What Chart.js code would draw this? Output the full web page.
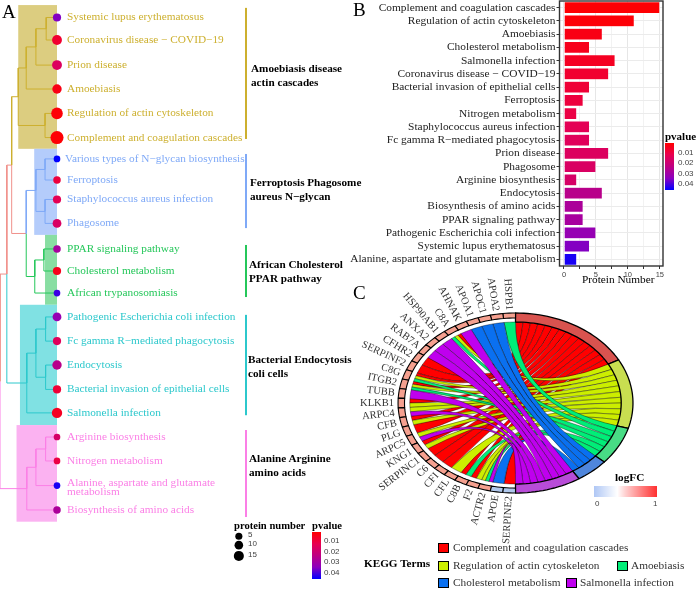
<!DOCTYPE html>
<html>
<head>
<meta charset="utf-8">
<script src="https://cdn.jsdelivr.net/npm/chart.js@4"></script>
<style>
  body { margin: 0; background: #fff; width: 697px; height: 589px; overflow: hidden; position: relative; font-family: "Liberation Serif", serif; }
  canvas { position: absolute; }
  .t { position: absolute; white-space: nowrap; color: #000; line-height: 1; }
  .b { font-weight: bold; font-size: 11.2px; }
  .s { font-family: "Liberation Sans", sans-serif; font-size: 8px; color: #444; }
  .k { font-size: 11.3px; color: #333; }
  .swatch { position: absolute; width: 9px; height: 8px; border: 1px solid #000; }
  .bar { position: absolute; }
</style>
</head>
<body>
<canvas id="treeChart" width="350" height="589" style="position:absolute;left:0px;top:0px"></canvas>
<canvas id="barChart" width="320" height="289" style="position:absolute;left:350px;top:0px"></canvas>
<canvas id="chordChart" width="347" height="290" style="position:absolute;left:350px;top:270px"></canvas>
<div id="extras"></div>
<script>
// panel A: pathways on the tree
const tipLabels = ['Systemic lupus erythematosus', 'Coronavirus disease \u2212 COVID\u221219', 'Prion disease', 'Amoebiasis',
  'Regulation of actin cytoskeleton', 'Complement and coagulation cascades', 'Various types of N\u2212glycan biosynthesis',
  'Ferroptosis', 'Staphylococcus aureus infection', 'Phagosome', 'PPAR signaling pathway', 'Cholesterol metabolism',
  'African trypanosomiasis', 'Pathogenic Escherichia coli infection', 'Fc gamma R\u2212mediated phagocytosis', 'Endocytosis',
  'Bacterial invasion of epithelial cells', 'Salmonella infection', 'Arginine biosynthesis', 'Nitrogen metabolism',
  'Alanine, aspartate and glutamate metabolism', 'Biosynthesis of amino acids'];
const tipCounts = [4, 7, 7, 6, 11, 15, 2, 3, 4, 5, 3, 4, 2, 5, 4, 6, 4, 8, 2, 2, 2, 3];
const tipPvalues = [.036, .007, .015, .003, .001, .0005, .048, .009, .013, .016, .029, .004, .042, .033, .014, .025, .008, .005, .017, .01, .045, .028];
const tipRows = [0, .96, 2.03, 3.05, 4.09, 5.12, 6.03, 6.93, 7.76, 8.78, 9.87, 10.81, 11.75, 12.77, 13.8, 14.82, 15.86, 16.86, 17.89, 18.91, 19.96, 21];
const tipGroups = [0, 0, 0, 0, 0, 0, 1, 1, 1, 1, 2, 2, 2, 3, 3, 3, 3, 3, 4, 4, 4, 4];
// hclust style merges: [left, right, depth], ids above 21 are earlier merges
const treeMerges = [[0, 1, .81], [22, 2, .63], [23, 3, .46], [4, 5, .79], [24, 25, .32], [6, 7, .79], [8, 9, .79], [27, 28, .63],
  [10, 11, .77], [30, 12, .61], [29, 31, .46], [26, 32, .205], [13, 14, .8], [15, 16, .8], [34, 35, .63], [36, 17, .47],
  [33, 37, .12], [18, 19, .8], [39, 20, .63], [40, 21, .47], [38, 41, 0]];
const groupColors = ['#CDB02F', '#7FA9F7', '#25C75A', '#2CC8CC', '#FB7FE6'];
const groupFills = ['#DCCD80', '#B4CCFB', '#88DEA2', '#80E1E3', '#FBB2F1'];
const groupRects = [[.32, -.53, 5.6], [.6, 5.6, 9.27], [.79, 9.27, 12.25], [.35, 12.25, 17.38], [.29, 17.38, 21.5]];
const groupBars = [[-.41, 5.18], [5.82, 8.98], [9.7, 11.92], [12.68, 16.96], [17.59, 21.3]];
const branchRed = '#F0908A';
const sizeLegend = [5, 10, 15];
const sizeLegendRows = [22.12, 22.5, 22.96];

// panel B
const barLabels = ['Complement and coagulation cascades', 'Regulation of actin cytoskeleton', 'Amoebiasis', 'Cholesterol metabolism',
  'Salmonella infection', 'Coronavirus disease \u2212 COVID\u221219', 'Bacterial invasion of epithelial cells', 'Ferroptosis',
  'Nitrogen metabolism', 'Staphylococcus aureus infection', 'Fc gamma R\u2212mediated phagocytosis', 'Prion disease', 'Phagosome',
  'Arginine biosynthesis', 'Endocytosis', 'Biosynthesis of amino acids', 'PPAR signaling pathway',
  'Pathogenic Escherichia coli infection', 'Systemic lupus erythematosus', 'Alanine, aspartate and glutamate metabolism'];
const barValues = [15, 11, 6, 4, 8, 7, 4, 3, 2, 4, 4, 7, 5, 2, 6, 3, 3, 5, 4, 2];
const barPvalues = [.0005, .001, .003, .004, .005, .007, .008, .009, .01, .013, .014, .015, .016, .017, .025, .028, .029, .033, .036, .045];

// panel C, genes run anticlockwise from the top of the circle
const chordGenes = ['HSPB1', 'APOA2', 'APOC1', 'APOA1', 'AHNAK', 'C8A', 'HSP90AB1', 'ANXA2', 'RAB7A', 'CFHR2', 'SERPINF2', 'C8G', 'ITGB2',
  'TUBB', 'KLKB1', 'ARPC4', 'CFB', 'PLG', 'ARPC5', 'KNG1', 'SERPINC1', 'C6', 'CFI', 'CFL', 'C8B', 'F2', 'ACTR2', 'APOE', 'SERPINE2'];
const chordLogFC = [.7, .7, .7, .7, .7, .7, .7, .7, .7, .7, .7, .7, .7, .7, .7, .7, .7, .7, .7, .7, .7, .7, .7, .7, .7, .7, .7, 0, 0];
const chordTerms = ['Complement and coagulation cascades', 'Regulation of actin cytoskeleton', 'Amoebiasis', 'Cholesterol metabolism', 'Salmonella infection'];
const termColors = ['#FF0000', '#CCEE00', '#00EE78', '#0A70F0', '#BF00EE'];
const ringColors = ['#D9534F', '#C9DE50', '#48DC85', '#4F86DC', '#B84CD8'];
// which terms each gene belongs to, same order as chordGenes
const geneTerms = [[2], [3], [3], [3], [4], [0, 1, 2], [4], [4], [4], [0], [0], [0, 1, 2], [0, 1, 2], [4], [0, 1], [1, 4], [0, 1], [0], [1, 4],
  [0, 1], [0], [0], [0], [1], [0, 2], [0, 1], [1, 2, 4], [3], [0]];

const pStops = [[0, 255, 0, 0], [.25, 232, 0, 80], [.5, 190, 0, 130], [.75, 140, 0, 190], [1, 0, 0, 255]];
function pColor(p) {
  const t = Math.min(p / .047, 1);
  let i = 0;
  while (i < pStops.length - 2 && t > pStops[i + 1][0]) i++;
  const a = pStops[i], b = pStops[i + 1], f = (t - a[0]) / (b[0] - a[0]);
  return 'rgb(' + [1, 2, 3].map(k => Math.round(a[k] + (b[k] - a[k]) * f)).join(',') + ')';
}
const bubbleR = n => 1.5 + 1.3 * Math.sqrt(n);
const SERIF = '"Liberation Serif", serif';

// tree layout from the merges
const nodes = tipRows.map((r, i) => ({ h: 1, y: r, tips: [i] }));
treeMerges.forEach(m => {
  const a = nodes[m[0]], b = nodes[m[1]];
  nodes.push({ h: m[2], y: (a.y + b.y) / 2, tips: a.tips.concat(b.tips), kids: [a, b] });
});
function branchColor(n) {
  const g = tipGroups[n.tips[0]];
  return n.tips.every(t => tipGroups[t] === g) ? groupColors[g] : branchRed;
}
const branchSets = [];
nodes.forEach(n => (n.kids || []).forEach(k => {
  branchSets.push({
    type: 'scatter', showLine: true, pointRadius: 0, borderWidth: 1, borderColor: branchColor(k),
    data: [{ x: k.h, y: k.y }, { x: n.h, y: k.y }, { x: n.h, y: n.y }]
  });
}));

const treeDecor = {
  id: 'treeDecor',
  beforeDatasetsDraw(chart) {
    const { ctx, scales: { x, y } } = chart;
    groupRects.forEach((r, i) => {
      ctx.fillStyle = groupFills[i];
      ctx.fillRect(x.getPixelForValue(r[0]), y.getPixelForValue(r[1]), x.getPixelForValue(1) - x.getPixelForValue(r[0]), y.getPixelForValue(r[2]) - y.getPixelForValue(r[1]));
    });
    groupBars.forEach((r, i) => {
      ctx.fillStyle = groupColors[i];
      ctx.fillRect(245, y.getPixelForValue(r[0]), 2, y.getPixelForValue(r[1]) - y.getPixelForValue(r[0]));
    });
  },
  afterDatasetsDraw(chart) {
    const { ctx, scales: { y } } = chart;
    ctx.save();
    ctx.font = '11.3px ' + SERIF;
    ctx.textBaseline = 'middle';
    tipLabels.forEach((txt, i) => {
      ctx.fillStyle = groupColors[tipGroups[i]];
      const py = y.getPixelForValue(tipRows[i]);
      if (i === 20) { // the long one wraps in the original
        ctx.fillText('Alanine, aspartate and glutamate', 67, py - 2.5);
        ctx.fillText('metabolism', 67, py + 6);
      } else {
        ctx.fillText(txt, i === 6 ? 65 : 67, py);
      }
    });
    ctx.restore();
  }
};

new Chart(document.getElementById('treeChart'), {
  data: {
    datasets: [
      { type: 'bubble', data: tipRows.map((r, i) => ({ x: 1, y: r, r: bubbleR(tipCounts[i]) })),
        backgroundColor: tipPvalues.map(pColor), borderWidth: 0 },
      { type: 'bubble', data: sizeLegend.map((n, i) => ({ x: 4.19, y: sizeLegendRows[i], r: 2.8 + n * .15 })),
        backgroundColor: '#000', borderWidth: 0 }
    ].concat(branchSets)
  },
  options: {
    responsive: false, animation: false, events: [],
    plugins: { legend: { display: false }, tooltip: { enabled: false } },
    layout: { padding: 0, autoPadding: false },
    scales: {
      x: { type: 'linear', display: false, min: 0, max: 6.14 },
      y: { type: 'linear', display: false, reverse: true, min: -.746, max: 24.37 }
    }
  },
  plugins: [treeDecor]
});

// panel B bars
const frame = {
  id: 'frame',
  afterDraw(chart) {
    const { ctx, chartArea: a } = chart;
    ctx.save();
    ctx.strokeStyle = '#333';
    ctx.lineWidth = 1.4;
    ctx.strokeRect(a.left, a.top, a.right - a.left, a.bottom - a.top);
    ctx.restore();
  }
};
new Chart(document.getElementById('barChart'), {
  type: 'bar',
  data: {
    labels: barLabels,
    datasets: [{ data: barValues, backgroundColor: barPvalues.map(pColor), borderColor: 'rgba(255,255,255,.6)', borderWidth: .5, barPercentage: .9, categoryPercentage: 1 }]
  },
  options: {
    indexAxis: 'y', responsive: false, animation: false, events: [],
    plugins: { legend: { display: false }, tooltip: { enabled: false } },
    layout: { padding: { top: 1, right: 7, bottom: 0, left: 0 }, autoPadding: false },
    scales: {
      x: {
        type: 'linear', min: -.7, max: 15.5,
        afterBuildTicks: s => { s.ticks = [0, 2.5, 5, 7.5, 10, 12.5, 15].map(v => ({ value: v })); },
        grid: { color: c => (c.tick && c.tick.value % 5 === 0 ? '#E6E6E6' : '#F2F2F2'), lineWidth: 1, tickLength: 3, tickColor: '#333', drawOnChartArea: true },
        border: { display: false },
        ticks: { autoSkip: false, maxRotation: 0, padding: 1, color: '#444', font: { family: 'Liberation Sans', size: 7.5 }, callback: v => (v % 5 === 0 ? v : '') },
        afterFit: s => { s.height = 23; s.paddingLeft = 0; s.paddingRight = 0; }
      },
      y: {
        type: 'category', offset: true,
        grid: { offset: false, color: '#EBEBEB', tickLength: 3, tickColor: '#333' },
        border: { display: false },
        ticks: { autoSkip: false, padding: 1, color: '#222', font: { family: 'Liberation Serif', size: 11.4 } },
        afterFit: s => { s.width = 209.5; s.paddingTop = 0; s.paddingBottom = 0; }
      }
    }
  },
  plugins: [frame]
});

// panel C chord, angles are clockwise from the top in degrees
const slotDeg = 180 / geneTerms.reduce((n, g) => n + g.length, 0);
const geneDeg = 180 / chordGenes.length;
const geneAnchors = chordGenes.map((g, i) => {
  const a = (360 - (i + .5) * geneDeg) * Math.PI / 180;
  return { x: 1.035 * Math.sin(a), y: 1.035 * Math.cos(a) };
});
function buildRibbons() {
  const out = [];
  const termStart = [];
  let n = 0;
  chordTerms.forEach((t, ti) => {
    termStart[ti] = n;
    geneTerms.forEach(terms => { if (terms.includes(ti)) n++; });
  });
  const used = chordTerms.map(() => 0);
  geneTerms.forEach((terms, gi) => {
    const top = 360 - gi * geneDeg, w = geneDeg / terms.length;
    terms.forEach((ti, k) => {
      const slot = termStart[ti] + used[ti]++;
      out.push({ term: ti, g1: top - k * w, g2: top - (k + 1) * w, t1: slot * slotDeg, t2: (slot + 1) * slotDeg });
    });
  });
  return out;
}
const ribbons = buildRibbons();

const chordDraw = {
  id: 'chordDraw',
  beforeDatasetsDraw(chart) {
    const { ctx, scales: { x, y } } = chart;
    const pt = (deg, r) => {
      const a = deg * Math.PI / 180;
      return [x.getPixelForValue(r * Math.sin(a)), y.getPixelForValue(r * Math.cos(a))];
    };
    const arcTo = (d1, d2, r) => {
      const steps = Math.max(2, Math.ceil(Math.abs(d2 - d1) / 2));
      for (let i = 0; i <= steps; i++) ctx.lineTo(...pt(d1 + (d2 - d1) * i / steps, r));
    };
    const sector = (d1, d2, r1, r2) => {
      ctx.beginPath();
      arcTo(d1, d2, r2);
      arcTo(d2, d1, r1);
      ctx.closePath();
    };
    const c = [x.getPixelForValue(0), y.getPixelForValue(0)];
    const R = .9;
    ctx.save();
    ctx.lineJoin = 'round';
    ribbons.slice().sort((a, b) => a.term - b.term).forEach(r => {
      ctx.beginPath();
      arcTo(r.g1, r.g2, R);
      ctx.quadraticCurveTo(c[0], c[1], ...pt(r.t2, R));
      arcTo(r.t2, r.t1, R);
      ctx.quadraticCurveTo(c[0], c[1], ...pt(r.g1, R));
      ctx.closePath();
      ctx.fillStyle = termColors[r.term];
      ctx.fill();
      ctx.strokeStyle = 'rgba(0,0,0,.75)';
      ctx.lineWidth = .5;
      ctx.stroke();
    });
    // term ring
    let from = 0;
    chordTerms.forEach((t, ti) => {
      const size = ribbons.filter(r => r.term === ti).length * slotDeg;
      sector(from, from + size, .9, 1);
      ctx.fillStyle = ringColors[ti];
      ctx.fill();
      ctx.strokeStyle = '#000';
      ctx.lineWidth = 1.3;
      ctx.stroke();
      from += size;
    });
    // gene ring
    chordGenes.forEach((g, i) => {
      sector(360 - i * geneDeg, 360 - (i + 1) * geneDeg, .945, 1);
      ctx.fillStyle = chordLogFC[i] > 0 ? '#F5A08F' : '#AFC7EC';
      ctx.fill();
      ctx.strokeStyle = '#000';
      ctx.lineWidth = 1.1;
      ctx.stroke();
    });
    ctx.restore();
  },
  afterDatasetsDraw(chart) {
    const { ctx } = chart;
    const pts = chart.getDatasetMeta(0).data;
    ctx.save();
    ctx.font = '10.5px ' + SERIF;
    ctx.fillStyle = '#333';
    ctx.textAlign = 'right';
    ctx.textBaseline = 'middle';
    chordGenes.forEach((g, i) => {
      const p = geneAnchors[i];
      ctx.save();
      ctx.translate(pts[i].x, pts[i].y);
      ctx.rotate(Math.atan2(p.y, -p.x));
      ctx.fillText(g, 0, 0);
      ctx.restore();
    });
    ctx.restore();
  }
};
new Chart(document.getElementById('chordChart'), {
  type: 'scatter',
  data: { datasets: [{ data: geneAnchors, pointRadius: 0 }] },
  options: {
    responsive: false, animation: false, events: [],
    plugins: { legend: { display: false }, tooltip: { enabled: false } },
    layout: { padding: 0, autoPadding: false },
    scales: {
      x: { type: 'linear', display: false, min: -1.409, max: 1.545 },
      y: { type: 'linear', display: false, min: -1.744, max: 1.478 }
    }
  },
  plugins: [chordDraw]
});

// text and colour bars around the charts
const extras = document.getElementById('extras');
function txt(cls, left, top, s, size) {
  const d = document.createElement('div');
  d.className = 't ' + cls;
  d.style.left = left + 'px';
  d.style.top = top + 'px';
  if (size) d.style.fontSize = size + 'px';
  d.textContent = s;
  extras.appendChild(d);
}
function cbar(left, top, w, h, css) {
  const d = document.createElement('div');
  d.className = 'bar';
  d.style.cssText = `left:${left}px;top:${top}px;width:${w}px;height:${h}px;background:${css}`;
  extras.appendChild(d);
}
const pGradient = 'linear-gradient(to bottom,' + pStops.map(s => `rgb(${s[1]},${s[2]},${s[3]}) ${s[0] * 100}%`).join(',') + ')';

txt('', 2, 2, 'A', 19); txt('', 353, 0, 'B', 19); txt('', 353, 283, 'C', 19);
[['Amoebiasis disease', 'actin cascades', 251, 63], ['Ferroptosis Phagosome', 'aureus N\u2212glycan', 250, 177],
 ['African Cholesterol', 'PPAR pathway', 249, 259], ['Bacterial Endocytosis', 'coli cells', 248, 354],
 ['Alanine Arginine', 'amino acids', 249, 453]].forEach(g => {
  txt('b', g[2], g[3], g[0]); txt('b', g[2], g[3] + 14, g[1]);
});

txt('b', 234, 520.5, 'protein number', 10.6); txt('b', 312, 520.5, 'pvalue', 10.6);
sizeLegend.forEach((n, i) => txt('s', 248, [531, 540, 551][i], n));
cbar(312, 532, 9, 47, pGradient);
['0.01', '0.02', '0.03', '0.04'].forEach((s, i) => txt('s', 324, 537 + i * 10.6, s));

txt('', 582, 274, 'Protein Number', 11.3);
txt('b', 665, 131, 'pvalue', 11);
cbar(665, 143, 9, 47, pGradient);
['0.01', '0.02', '0.03', '0.04'].forEach((s, i) => txt('s', 678, 148.5 + i * 10.6, s));

txt('b', 615, 472, 'logFC');
cbar(594, 486, 63, 11, 'linear-gradient(to right,#AFC7F5 0%,#fff 37%,#FFD0D0 50%,#FF3030 100%)');
txt('s', 595, 500, '0'); txt('s', 653, 500, '1');

txt('b', 364, 558, 'KEGG Terms');
[[438, 543, 453], [438, 561, 453], [617, 561, 631], [438, 578, 453], [566, 578, 580]].forEach((p, i) => {
  const sw = document.createElement('div');
  sw.className = 'swatch';
  sw.style.cssText = `left:${p[0]}px;top:${p[1]}px;background:${termColors[i]}`;
  extras.appendChild(sw);
  txt('k', p[2], p[1] - 1, chordTerms[i]);
});
</script>
</body>
</html>
